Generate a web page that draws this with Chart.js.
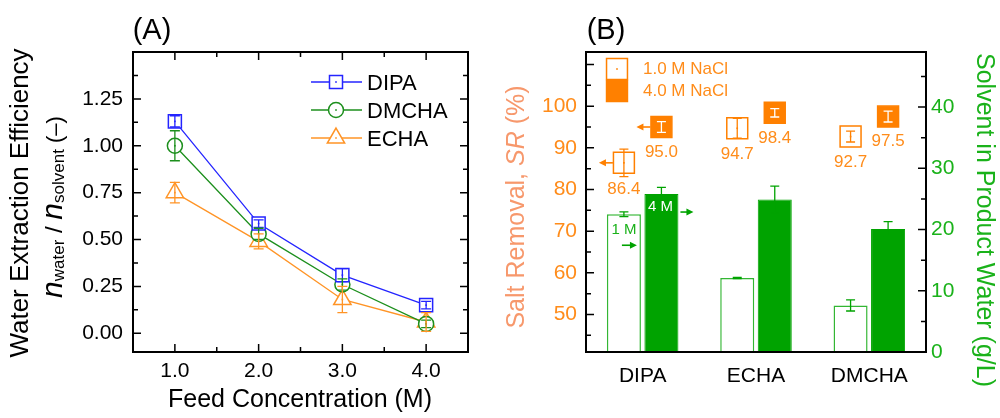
<!DOCTYPE html>
<html>
<head>
<meta charset="utf-8">
<script src="https://cdn.jsdelivr.net/npm/chart.js@4.4.1/dist/chart.umd.min.js"></script>
<style>
html, body { margin: 0; padding: 0; background: #fff; }
#wrap { position: relative; width: 1000px; height: 418px; overflow: hidden; }
canvas { position: absolute; top: 0; }
#chartA { left: 0; }
#chartB { left: 500px; }
</style>
</head>
<body>
<div id="wrap">
	<canvas id="chartA" width="500" height="418"></canvas>
	<canvas id="chartB" width="500" height="418"></canvas>
</div>
<script>
var FONT = "'Liberation Sans', Arial, sans-serif";
Chart.defaults.font.family = FONT;
Chart.defaults.color = '#000';

// (A) water extraction efficiency vs feed concentration
var feedConc = [1.0, 2.0, 3.0, 4.0];
var dipaEff = [1.13, 0.585, 0.31, 0.15];
var dipaErr = [0.03, 0.02, 0.035, 0.02];
var dmchaEff = [1.00, 0.53, 0.26, 0.05];
var dmchaErr = [0.08, 0.03, 0.03, 0.02];
var echaEff = [0.75, 0.49, 0.18, 0.06];
var echaErr = [0.055, 0.04, 0.07, 0.05];
var effTicks = [0, 0.25, 0.5, 0.75, 1.0, 1.25];

// (B) salt removal and solvent in product water
var solvents = ['DIPA', 'ECHA', 'DMCHA'];
var solvent1M = [22.5, 12.1, 7.6];
var solvent1MErr = [0.4, 0.1, 0.9];
var solvent4M = [25.8, 24.9, 20.1];
var solvent4MErr = [1.1, 2.2, 1.2];
var sr1M = [86.4, 94.7, 92.7];
var sr1MErr = [3.3, 2.4, 1.3];
var sr4M = [95.0, 98.4, 97.5];
var sr4MErr = [1.3, 1.0, 1.3];
var srTicks = [50, 60, 70, 80, 90, 100];
var solventTicks = [0, 10, 20, 30, 40];

var BLUE = '#2424ff', GREEN_A = '#1c8f1c', ORANGE_A = '#ff9426';
var ORANGE = '#ff8000', ORANGE_TXT = '#ff8c1a', SALMON = '#f7986c';
var GREEN = '#00a300', GREEN_LINE = '#33b633', GREEN_TXT = '#1ab21a';

function setTicks(list) {
	return function(s) { s.ticks = list.map(function(v) { return {value: v}; }); };
}

function marks(chart, scale, sides, major, minor) {
	var ctx = chart.ctx, a = chart.chartArea;
	var n0 = Math.ceil(scale.min / minor - 1e-6), n1 = Math.floor(scale.max / minor + 1e-6);
	ctx.save();
	ctx.strokeStyle = '#000';
	ctx.lineWidth = 1.5;
	ctx.beginPath();
	for (var i = n0; i <= n1; i++) {
		var v = i * minor;
		var big = Math.abs(v / major - Math.round(v / major)) < 1e-6;
		var len = big ? 8 : 5;
		var p = scale.getPixelForValue(v);
		sides.forEach(function(s) {
			if (s === 'left') { ctx.moveTo(a.left, p); ctx.lineTo(a.left + len, p); }
			if (s === 'right') { ctx.moveTo(a.right, p); ctx.lineTo(a.right - len, p); }
			if (s === 'bottom') { ctx.moveTo(p, a.bottom); ctx.lineTo(p, a.bottom - len); }
			if (s === 'top') { ctx.moveTo(p, a.top); ctx.lineTo(p, a.top + len); }
		});
	}
	ctx.stroke();
	ctx.restore();
}

function frame(chart) {
	var ctx = chart.ctx, a = chart.chartArea;
	ctx.save();
	ctx.strokeStyle = '#000';
	ctx.lineWidth = 2;
	ctx.strokeRect(a.left, a.top, a.right - a.left, a.bottom - a.top);
	ctx.restore();
}

// text made of runs with own font and baseline shift, centred on x,y
function textRuns(ctx, parts, x, y, angle, color) {
	ctx.save();
	ctx.translate(x, y);
	ctx.rotate(angle);
	ctx.fillStyle = color;
	ctx.textBaseline = 'alphabetic';
	ctx.textAlign = 'left';
	var w = 0;
	parts.forEach(function(p) { ctx.font = p.font; w += ctx.measureText(p.t).width; });
	var cx = -w / 2;
	parts.forEach(function(p) {
		ctx.font = p.font;
		ctx.fillText(p.t, cx, p.dy || 0);
		cx += ctx.measureText(p.t).width;
	});
	ctx.restore();
}

function marker(ctx, style, r, x, y) {
	ctx.beginPath();
	if (style === 'rect') {
		var h = r * Math.SQRT1_2;
		ctx.rect(x - h, y - h, 2 * h, 2 * h);
	} else if (style === 'circle') {
		ctx.arc(x, y, r, 0, Math.PI * 2);
	} else {
		for (var k = 0; k < 3; k++) {
			var ang = k * 2 * Math.PI / 3;
			if (k === 0) ctx.moveTo(x + Math.sin(ang) * r, y - Math.cos(ang) * r);
			else ctx.lineTo(x + Math.sin(ang) * r, y - Math.cos(ang) * r);
		}
		ctx.closePath();
	}
	ctx.fill();
	ctx.stroke();
}

function errBar(ctx, x, y1, y2, cap, color, lw) {
	ctx.save();
	ctx.strokeStyle = color;
	ctx.lineWidth = lw;
	ctx.beginPath();
	ctx.moveTo(x, y1); ctx.lineTo(x, y2);
	ctx.moveTo(x - cap, y1); ctx.lineTo(x + cap, y1);
	ctx.moveTo(x - cap, y2); ctx.lineTo(x + cap, y2);
	ctx.stroke();
	ctx.restore();
}

function arrow(ctx, x1, y, x2, color) {
	var dir = x2 > x1 ? 1 : -1;
	ctx.save();
	ctx.strokeStyle = color;
	ctx.fillStyle = color;
	ctx.lineWidth = 1.6;
	ctx.beginPath(); ctx.moveTo(x1, y); ctx.lineTo(x2 - dir * 5, y); ctx.stroke();
	ctx.beginPath();
	ctx.moveTo(x2, y); ctx.lineTo(x2 - dir * 7, y - 3.5); ctx.lineTo(x2 - dir * 7, y + 3.5);
	ctx.closePath(); ctx.fill();
	ctx.restore();
}

// ---------- chart A ----------
var seriesA = [
	{label: 'DIPA', y: dipaEff, err: dipaErr, color: BLUE, style: 'rect', r: 9.2},
	{label: 'DMCHA', y: dmchaEff, err: dmchaErr, color: GREEN_A, style: 'circle', r: 7.5},
	{label: 'ECHA', y: echaEff, err: echaErr, color: ORANGE_A, style: 'triangle', r: 10}
];

var plotA = {
	id: 'plotA',
	afterDatasetsDraw: function(chart) {
		var ctx = chart.ctx, ys = chart.scales.y;
		seriesA.forEach(function(s, d) {
			chart.getDatasetMeta(d).data.forEach(function(pt, i) {
				errBar(ctx, pt.x, ys.getPixelForValue(s.y[i] + s.err[i]), ys.getPixelForValue(s.y[i] - s.err[i]), 5, s.color, 1.3);
				ctx.fillStyle = s.color;
				ctx.fillRect(pt.x - 0.8, pt.y - 0.8, 1.6, 1.6);
			});
		});
	},
	afterDraw: function(chart) {
		var ctx = chart.ctx;
		frame(chart);
		marks(chart, chart.scales.x, ['bottom', 'top'], 1, 0.5);
		marks(chart, chart.scales.y, ['left', 'right'], 0.25, 0.125);

		textRuns(ctx, [{t: '(A)', font: '29px ' + FONT}], 152, 39, 0, '#000');
		textRuns(ctx, [{t: 'Feed Concentration (M)', font: '25px ' + FONT}], 300, 407, 0, '#000');
		textRuns(ctx, [{t: 'Water Extraction Efficiency', font: '26px ' + FONT}], 28, 203, -Math.PI / 2, '#000');
		textRuns(ctx, [
			{t: 'n', font: 'italic 30px ' + FONT},
			{t: 'water', font: '17px ' + FONT, dy: 2},
			{t: ' / ', font: '24px ' + FONT},
			{t: 'n', font: 'italic 30px ' + FONT},
			{t: 'solvent', font: '17px ' + FONT, dy: 2},
			{t: ' (\u2013)', font: '22px ' + FONT}
		], 62, 207, -Math.PI / 2, '#000');

		// legend
		seriesA.forEach(function(s, k) {
			var y = 82 + k * 28;
			ctx.save();
			ctx.strokeStyle = s.color;
			ctx.lineWidth = 1.3;
			ctx.beginPath(); ctx.moveTo(311, y); ctx.lineTo(362, y); ctx.stroke();
			ctx.fillStyle = '#fff';
			ctx.lineWidth = 1.5;
			marker(ctx, s.style, s.r, 336, y);
			ctx.fillStyle = s.color;
			ctx.fillRect(335.2, y - 0.8, 1.6, 1.6);
			ctx.fillStyle = '#000';
			ctx.font = '22px ' + FONT;
			ctx.textBaseline = 'alphabetic';
			ctx.fillText(s.label, 367, y + 8);
			ctx.restore();
		});
	}
};

new Chart(document.getElementById('chartA'), {
	type: 'line',
	data: {
		datasets: seriesA.map(function(s) {
			return {
				label: s.label,
				data: feedConc.map(function(x, i) { return {x: x, y: s.y[i]}; }),
				borderColor: s.color,
				backgroundColor: '#fff',
				borderWidth: 1.3,
				tension: 0,
				pointStyle: s.style,
				pointRadius: s.r,
				pointBorderWidth: 1.5,
				pointBackgroundColor: '#fff',
				pointBorderColor: s.color
			};
		})
	},
	options: {
		responsive: false,
		animation: false,
		devicePixelRatio: 1,
		layout: {padding: {left: 0, right: 32, top: 52, bottom: 0}},
		plugins: {legend: {display: false}, tooltip: {enabled: false}},
		scales: {
			x: {
				type: 'linear', min: 0.5, max: 4.5,
				grid: {display: false, drawTicks: false}, border: {display: false},
				afterBuildTicks: setTicks(feedConc),
				ticks: {font: {size: 21}, padding: 7, color: '#000', callback: function(v) { return v.toFixed(1); }},
				afterFit: function(s) { s.height = 66; }
			},
			y: {
				min: -0.1, max: 1.5,
				grid: {display: false, drawTicks: false}, border: {display: false},
				afterBuildTicks: setTicks(effTicks),
				ticks: {font: {size: 21}, padding: 10, color: '#000', callback: function(v) { return v.toFixed(2); }},
				afterFit: function(s) { s.width = 133; }
			}
		}
	},
	plugins: [plotA]
});

// ---------- chart B ----------
var plotB = {
	id: 'plotB',
	afterDatasetsDraw: function(chart) {
		var ctx = chart.ctx, yS = chart.scales.yS, ySR = chart.scales.ySR;
		var m1 = chart.getDatasetMeta(0).data, m4 = chart.getDatasetMeta(1).data;

		// solvent error bars
		[[m1, solvent1M, solvent1MErr], [m4, solvent4M, solvent4MErr]].forEach(function(g) {
			g[0].forEach(function(bar, i) {
				errBar(ctx, bar.x, yS.getPixelForValue(g[1][i] + g[2][i]), yS.getPixelForValue(g[1][i] - g[2][i]), 4.5, GREEN, 1.3);
			});
		});

		// salt removal points
		solvents.forEach(function(name, i) {
			var x1 = m1[i].x, y1 = ySR.getPixelForValue(sr1M[i]);
			ctx.save();
			ctx.fillStyle = '#fff'; ctx.strokeStyle = ORANGE; ctx.lineWidth = 1.5;
			marker(ctx, 'rect', 14.8, x1, y1);
			ctx.restore();
			errBar(ctx, x1, ySR.getPixelForValue(sr1M[i] + sr1MErr[i]), ySR.getPixelForValue(sr1M[i] - sr1MErr[i]), 4.5, ORANGE, 1.3);
			ctx.fillStyle = ORANGE;
			ctx.fillRect(x1 - 0.8, y1 - 0.8, 1.6, 1.6);

			var x4 = m4[i].x, y4 = ySR.getPixelForValue(sr4M[i]);
			ctx.save();
			ctx.fillStyle = ORANGE; ctx.strokeStyle = ORANGE; ctx.lineWidth = 1.5;
			marker(ctx, 'rect', 14.8, x4, y4);
			ctx.restore();
			errBar(ctx, x4, ySR.getPixelForValue(sr4M[i] + sr4MErr[i]), ySR.getPixelForValue(sr4M[i] - sr4MErr[i]), 4.5, '#fff', 1.3);

			ctx.save();
			ctx.fillStyle = ORANGE_TXT;
			ctx.font = '17px ' + FONT;
			ctx.textAlign = 'center';
			ctx.textBaseline = 'middle';
			ctx.fillText(sr1M[i].toFixed(1), x1, y1 + 26);
			ctx.fillText(sr4M[i].toFixed(1), x4, y4 + 25);
			ctx.restore();
		});

		// axis pointers for DIPA
		var p1 = m1[0], p4 = m4[0];
		arrow(ctx, p1.x - 11, ySR.getPixelForValue(sr1M[0]), p1.x - 25, ORANGE);
		arrow(ctx, p4.x - 11, ySR.getPixelForValue(sr4M[0]), p4.x - 25, ORANGE);
		ctx.save();
		ctx.font = '15px ' + FONT;
		ctx.textAlign = 'center';
		ctx.textBaseline = 'middle';
		ctx.fillStyle = GREEN_TXT;
		ctx.fillText('1 M', p1.x, p1.y + 16);
		ctx.fillStyle = '#fff';
		ctx.fillText('4 M', p4.x - 1, p4.y + 13);
		ctx.restore();
		arrow(ctx, p1.x - 2, p1.y + 31, p1.x + 13, GREEN);
		arrow(ctx, p4.x + p4.width / 2 + 2, p4.y + 18, p4.x + p4.width / 2 + 15, GREEN);
	},
	afterDraw: function(chart) {
		var ctx = chart.ctx;
		frame(chart);
		marks(chart, chart.scales.ySR, ['left'], 10, 5);
		marks(chart, chart.scales.yS, ['right'], 10, 5);

		textRuns(ctx, [{t: '(B)', font: '29px ' + FONT}], 106, 39, 0, '#000');
		textRuns(ctx, [
			{t: 'Salt Removal, ', font: '25px ' + FONT},
			{t: 'SR', font: 'italic 25px ' + FONT},
			{t: ' (%)', font: '25px ' + FONT}
		], 24, 207, -Math.PI / 2, SALMON);
		textRuns(ctx, [{t: 'Solvent in Product Water (g/L)', font: '25px ' + FONT}], 477, 220, Math.PI / 2, GREEN_TXT);

		// legend
		ctx.save();
		ctx.fillStyle = '#fff'; ctx.strokeStyle = ORANGE; ctx.lineWidth = 1.5;
		marker(ctx, 'rect', 14.8, 117, 69);
		ctx.fillStyle = ORANGE;
		ctx.fillRect(116.2, 68.2, 1.6, 1.6);
		marker(ctx, 'rect', 14.8, 117, 91);
		ctx.fillStyle = ORANGE_TXT;
		ctx.font = '17px ' + FONT;
		ctx.textBaseline = 'middle';
		ctx.fillText('1.0 M NaCl', 143, 69);
		ctx.fillText('4.0 M NaCl', 143, 91);
		ctx.restore();
	}
};

new Chart(document.getElementById('chartB'), {
	type: 'bar',
	data: {
		labels: solvents,
		datasets: [
			{label: '1.0 M NaCl', data: solvent1M, yAxisID: 'yS', backgroundColor: '#fff', borderColor: GREEN_LINE, borderWidth: 1.5},
			{label: '4.0 M NaCl', data: solvent4M, yAxisID: 'yS', backgroundColor: GREEN, borderColor: GREEN, borderWidth: 1}
		]
	},
	options: {
		responsive: false,
		animation: false,
		devicePixelRatio: 1,
		categoryPercentage: 0.662,
		barPercentage: 0.907,
		layout: {padding: {left: 0, right: 0, top: 52, bottom: 0}},
		plugins: {legend: {display: false}, tooltip: {enabled: false}},
		scales: {
			x: {
				grid: {display: false, drawTicks: false}, border: {display: false},
				ticks: {font: {size: 21}, padding: 12, color: '#000'},
				afterFit: function(s) { s.height = 66; }
			},
			ySR: {
				position: 'left', min: 41, max: 113,
				grid: {display: false, drawTicks: false}, border: {display: false},
				afterBuildTicks: setTicks(srTicks),
				ticks: {font: {size: 21}, padding: 9, color: ORANGE_TXT},
				afterFit: function(s) { s.width = 86; }
			},
			yS: {
				position: 'right', min: 0, max: 49,
				grid: {display: false, drawTicks: false}, border: {display: false},
				afterBuildTicks: setTicks(solventTicks),
				ticks: {font: {size: 21}, padding: 5, color: GREEN_TXT},
				afterFit: function(s) { s.width = 74; }
			}
		}
	},
	plugins: [plotB]
});
</script>
</body>
</html>
